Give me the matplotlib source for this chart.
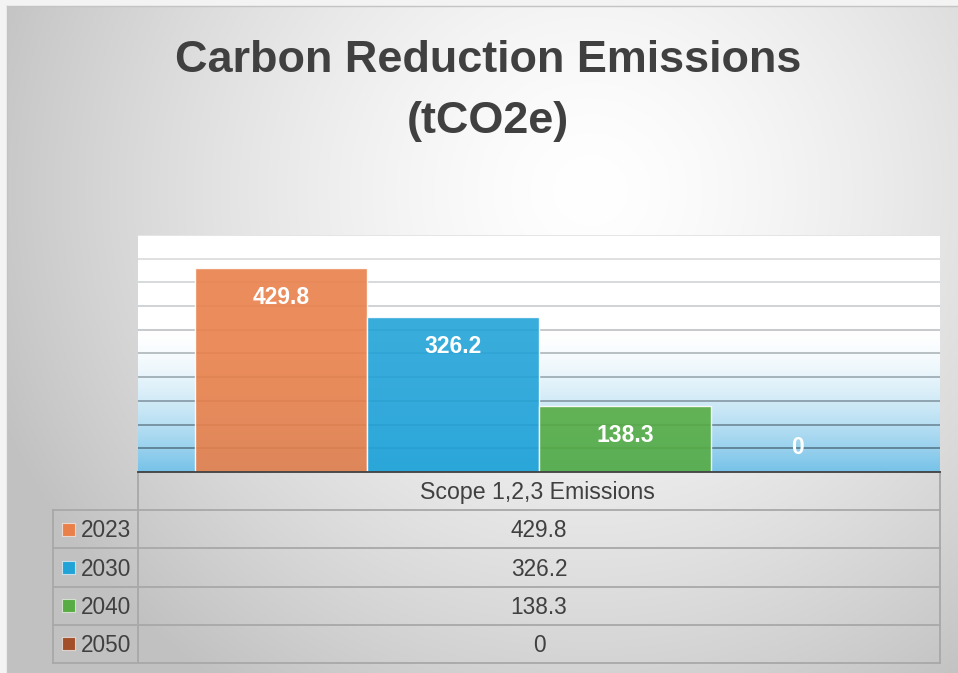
import numpy as np
import matplotlib
matplotlib.use("Agg")
import matplotlib.pyplot as plt
from matplotlib.patches import Rectangle

# ---------------- data ----------------
title_lines = ["Carbon Reduction Emissions", "(tCO2e)"]
category = "Scope 1,2,3 Emissions"
series_names = ["2023", "2030", "2040", "2050"]
values = [429.8, 326.2, 138.3, 0]
value_labels = ["429.8", "326.2", "138.3", "0"]
colors = ["#E9804A", "#22A3D8", "#57AC44", "#A3502A"]
y_max = 500
y_step = 50

W, H = 958, 673
fig = plt.figure(figsize=(W / 100, H / 100), dpi=100)
fig.patch.set_facecolor("#f3f3f3")

FONT = "Liberation Sans"
TXT = "#404040"

# ---------------- background (pixel-coordinate axes) ----------------
bg = fig.add_axes([0, 0, 1, 1])
bg.set_xlim(0, W)
bg.set_ylim(H, 0)
bg.axis("off")
yy, xx = np.mgrid[0:H, 0:W]
d = np.hypot(xx - 590, (yy - 190) * 1.05)
t = np.clip(d / 640, 0, 1)
g = 255 - 62 * t ** 1.45
img = np.dstack([g, g, g]) / 255.0
img[:6, :, :] = 0.955
img[:, :7, :] = 0.955
bg.imshow(img, extent=(0, W, H, 0), zorder=0, interpolation="bilinear")
bg.plot([7, W], [6, 6], color="#c4c4c4", lw=1, zorder=1)
bg.plot([7, 7], [6, H], color="#c4c4c4", lw=1, zorder=1)

# title
bg.text(488, 72, title_lines[0], ha="center", va="baseline", fontsize=32.4,
        fontweight="bold", color=TXT, family=FONT, zorder=3)
bg.text(488, 133, title_lines[1], ha="center", va="baseline", fontsize=32.4,
        fontweight="bold", color=TXT, family=FONT, zorder=3)

# ---------------- plot area ----------------
L, R, T, B = 138, 940, 235, 472
ax = fig.add_axes([L / W, 1 - B / H, (R - L) / W, (B - T) / H])
ax.set_xlim(-0.5, 0.5)
ax.set_ylim(0, y_max)

vals = np.linspace(y_max, 0, 400)
tt = np.clip((300 - vals) / 300, 0, 1) ** 1.6
blue = np.array([0x76, 0xc2, 0xe8]) / 255.0
grad = (1 - tt)[:, None] * 1.0 + tt[:, None] * blue[None, :]
ax.imshow(grad[:, None, :], extent=(-0.5, 0.5, 0, y_max), aspect="auto",
          zorder=0, interpolation="bilinear")

for gv in np.arange(y_step, y_max + 1, y_step):
    a = 0.15 + 0.45 * (1 - gv / y_max) ** 1.3
    ax.axhline(gv, color="#2e3c46", alpha=a, lw=1.3, zorder=1)

bw = 0.2145
n = len(values)
for i, (v, c, lab) in enumerate(zip(values, colors, value_labels)):
    x = (i - (n - 1) / 2) * bw
    ax.bar(x, v, width=bw, color=c, alpha=0.9, edgecolor=(1, 1, 1, 0.45),
           linewidth=1.0, zorder=2)
    off = -21 if v > 0 else 18
    ax.annotate(lab, (x, v), xytext=(0, off), textcoords="offset points",
                ha="center", va="center", color="white", fontsize=16.5,
                fontweight="bold", family=FONT, zorder=4)

for s in ["left", "right", "top"]:
    ax.spines[s].set_visible(False)
ax.spines["bottom"].set_color("#404040")
ax.spines["bottom"].set_linewidth(1.3)
ax.spines["bottom"].set_zorder(5)
ax.set_xticks([])
ax.set_yticks([])

# ---------------- data table ----------------
LC = 53
row_edges = [472, 510, 548.3, 586.5, 624.5, 662.5]
lc = "#a8a8a8"
lw = 1.3
for k, yv in enumerate(row_edges[1:]):
    bg.plot([LC, R], [yv, yv], color=lc, lw=lw, zorder=2, solid_capstyle="projecting")
bg.plot([L, L], [row_edges[0], row_edges[-1]], color=lc, lw=lw, zorder=2)
bg.plot([R, R], [row_edges[0], row_edges[-1]], color=lc, lw=lw, zorder=2)
bg.plot([LC, LC], [row_edges[1], row_edges[-1]], color=lc, lw=lw, zorder=2)

fs = 16.3
cap = fs * 100 / 72 * 0.716
cx = (L + R) / 2
hc = (row_edges[0] + row_edges[1]) / 2
bg.text(cx - 2, hc + cap / 2, category, ha="center", va="baseline", fontsize=fs + 0.4,
        color=TXT, family=FONT, zorder=3)
for i, (name, lab, c) in enumerate(zip(series_names, value_labels, colors)):
    rc = (row_edges[i + 1] + row_edges[i + 2]) / 2
    bg.add_patch(Rectangle((62, rc - 6.5), 13, 13, facecolor=c,
                           edgecolor=(1, 1, 1, 0.6), lw=0.8, zorder=3))
    bg.text(81, rc + cap / 2, name, ha="left", va="baseline", fontsize=fs,
            color=TXT, family=FONT, zorder=3)
    bg.text(cx, rc + cap / 2, lab, ha="center", va="baseline", fontsize=fs,
            color=TXT, family=FONT, zorder=3)

fig.savefig("out.png", dpi=100)
